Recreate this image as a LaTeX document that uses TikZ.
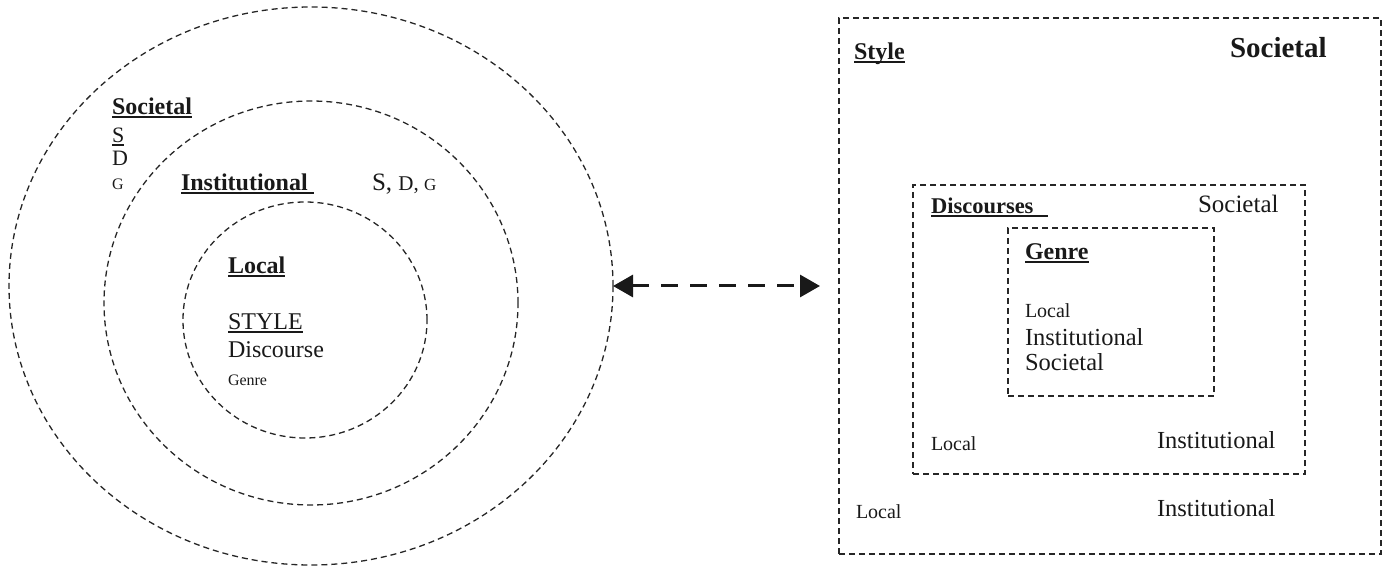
\documentclass[tikz,border=0pt]{standalone}
\usepackage{fontspec}
\setmainfont{Liberation Serif}
\usetikzlibrary{shapes.geometric,arrows.meta}
\newsavebox\ulbox
\newcommand\ulx[2][0pt]{\sbox\ulbox{#2}\rlap{\rule[-0.12em]{\dimexpr\wd\ulbox+#1\relax}{0.075em}}\usebox\ulbox}
\newcommand\fs[1]{\fontsize{#1}{#1}\selectfont}
\begin{document}
\begin{tikzpicture}[x=1pt,y=-1pt,
  dsh/.style={draw=black!85, line width=1.3pt, dash pattern=on 6pt off 4pt},
  ring/.style={dsh, ellipse, inner sep=0pt, outer sep=0pt},
  frame/.style={dsh, rectangle, inner sep=0pt, outer sep=0pt, anchor=north west},
  lbl/.style={anchor=base west, inner sep=0pt, outer sep=0pt, text=black!90},
  link/.style={draw=black!90, line width=3pt, dash pattern=on 17pt off 12pt,
    {Triangle[length=20pt,width=22pt]}-{Triangle[length=20pt,width=22pt]}}]
\useasboundingbox (0,0) rectangle (1384,569);
% rings
\node[ring, minimum width=604pt, minimum height=558pt] (outer) at (311,286) {};
\node[ring, minimum width=414pt, minimum height=404pt] (mid) at (311,303) {};
\node[ring, minimum width=244pt, minimum height=236pt] (inner) at (305,320) {};
% boxes
\node[frame, minimum width=542pt, minimum height=536pt] (sbox) at (839,18) {};
\node[frame, minimum width=392pt, minimum height=289pt] (dbox) at (913,185) {};
\node[frame, minimum width=206pt, minimum height=168pt] (gbox) at (1008,228) {};
% arrow
\draw[link, shorten >=19pt] (outer.east) -- (sbox.west);
% left labels
\node[lbl,font=\bfseries\fs{24}] (socL) at (112,115) {\ulx{Societal}};
\node[lbl,font=\fs{22}] (sL) at (112,143) {\ulx{S}};
\node[lbl,font=\fs{22}] (dL) at (112,166) {D};
\node[lbl,font=\fs{16}] (gL) at (112,190) {G};
\node[lbl,font=\bfseries\fs{24}] (instL) at (181,191) {\ulx[6pt]{Institutional}};
\node[lbl] (sdg) at (372,191) {\fs{25}S, \fs{21}D, \fs{17}G};
\node[lbl,font=\bfseries\fs{24}] (locL) at (228,274) {\ulx{Local}};
\node[lbl,font=\fs{24}] (styleL) at (228,330) {\ulx{STYLE}};
\node[lbl,font=\fs{24}] (discL) at (228,357) {Discourse};
\node[lbl,font=\fs{16}] (genL) at (228,385) {Genre};
% right labels
\node[lbl,font=\bfseries\fs{24}] (styR) at (854,60) {\ulx{Style}};
\node[lbl,font=\bfseries\fs{29}] (socR) at (1230,58) {Societal};
\node[lbl,font=\bfseries\fs{22.5}] (discR) at (931,214) {\ulx[14pt]{Discourses}};
\node[lbl,font=\fs{25}] (socD) at (1198,213) {Societal};
\node[lbl,font=\bfseries\fs{24}] (genR) at (1025,260) {\ulx{Genre}};
\node[lbl,font=\fs{20}] (locG) at (1025,317) {Local};
\node[lbl,font=\fs{24.5}] (instG) at (1025,345) {Institutional};
\node[lbl,font=\fs{24.5}] (socG) at (1025,370) {Societal};
\node[lbl,font=\fs{20}] (locD) at (931,450) {Local};
\node[lbl,font=\fs{24.5}] (instD) at (1157,448) {Institutional};
\node[lbl,font=\fs{20}] (locS) at (856,518) {Local};
\node[lbl,font=\fs{24.5}] (instS) at (1157,516) {Institutional};
\end{tikzpicture}
\end{document}
